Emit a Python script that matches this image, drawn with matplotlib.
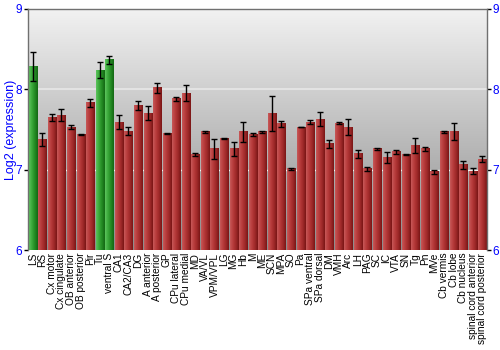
import numpy as np
import matplotlib
matplotlib.use("Agg")
import matplotlib.pyplot as plt
from matplotlib.colors import LinearSegmentedColormap

regions = ["LS", "RS", "Cx motor", "Cx cingulate", "OB anterior", "OB posterior", "Pir", "Tu",
           "ventral S", "CA1", "CA2/CA3", "DG", "A anterior", "A posterior", "GP", "CPu lateral",
           "CPu medial", "MD", "VA/VL", "VPM/VPL", "LG", "MG", "Hb", "M", "ME", "SCN", "MPA", "SO",
           "Pa", "SPa ventral", "SPa dorsal", "DM", "VMH", "Arc", "LH", "PAG", "SC", "IC", "VTA",
           "SN", "Tg", "Pn", "MVe", "Cb vermis", "Cb lobe", "Cb nucleus", "spinal cord anterior",
           "spinal cord posterior"]
values = [8.28, 7.38, 7.65, 7.68, 7.53, 7.44, 7.83, 8.24,
          8.37, 7.59, 7.48, 7.80, 7.70, 8.02, 7.45, 7.88,
          7.95, 7.19, 7.47, 7.26, 7.39, 7.26, 7.47, 7.44, 7.47, 7.70, 7.57, 7.01,
          7.53, 7.59, 7.63, 7.32, 7.58, 7.53, 7.20, 7.01, 7.26, 7.15, 7.22,
          7.19, 7.30, 7.26, 6.975, 7.47, 7.47, 7.06, 6.98,
          7.13]
errors = [0.18, 0.08, 0.04, 0.07, 0.02, 0.01, 0.05, 0.095,
          0.05, 0.087, 0.047, 0.06, 0.087, 0.06, 0.005, 0.025,
          0.10, 0.015, 0.015, 0.125, 0.01, 0.087, 0.125, 0.015, 0.015, 0.215, 0.037, 0.01,
          0.005, 0.025, 0.09, 0.05, 0.015, 0.10, 0.05, 0.025, 0.015, 0.07, 0.025,
          0.005, 0.09, 0.027, 0.027, 0.01, 0.105, 0.054, 0.04,
          0.037]
highlighted = ["LS", "Tu", "ventral S"]

fig = plt.figure(figsize=(5, 3.5), dpi=100)
ax = fig.add_axes([0.056, 0.2857, 0.918, 0.6886])

ymin, ymax = 6, 9
n = len(regions)
x = np.arange(n)
ax.set_xlim(-0.5, n - 0.5)
ax.set_ylim(ymin, ymax)

# background gradient
bg = LinearSegmentedColormap.from_list("bg", ["#8c8c8c", "#f2f2f2"])
grad = np.linspace(0, 1, 256).reshape(-1, 1)
ax.imshow(grad, extent=(-0.5, n - 0.5, ymin, ymax), origin="lower", cmap=bg,
          aspect="auto", zorder=0)

# grid lines
ax.axhline(8, color="#e8e8e8", lw=1.2, zorder=1)
ax.axhline(7, color="#f4f4f4", lw=1.0, zorder=1)

red_cm = LinearSegmentedColormap.from_list("red", ["#c65858", "#b83c3c", "#a02a2a", "#7a1616"])
green_cm = LinearSegmentedColormap.from_list("green", ["#5cc45c", "#3aa83a", "#238a23", "#146814"])
hgrad = np.linspace(0, 1, 32).reshape(1, -1)
w = 0.84
for xi, name, v in zip(x, regions, values):
    cm = green_cm if name in highlighted else red_cm
    ax.imshow(hgrad, extent=(xi - w / 2, xi + w / 2, ymin, v), cmap=cm,
              aspect="auto", zorder=2, interpolation="bilinear")

ax.errorbar(x, values, yerr=errors, fmt="none", ecolor="black", elinewidth=1.0,
            capsize=2.2, capthick=1.0, zorder=3)

ax.set_xlim(-0.5, n - 0.5)
ax.set_ylim(ymin, ymax)
ax.set_xticks(x)
ax.set_xticklabels(regions, rotation=90, fontsize=7.3, family="Liberation Sans",
                   va="top", ha="center")
ax.tick_params(axis="x", length=0, pad=2)
ax.set_yticks([6, 7, 8, 9])
ax.tick_params(axis="y", which="both", left=True, right=True, labelleft=True,
               labelright=True, length=3, width=1, colors="black", labelcolor="blue",
               labelsize=8.5, pad=1)
for lab in ax.get_yticklabels():
    lab.set_family("Liberation Sans")
fig.text(0.022, 0.2857 + 0.6886 / 2, "Log2 (expression)", color="blue", fontsize=9,
         family="Liberation Sans", rotation=90, ha="center", va="center")
for s in ["top", "left", "right"]:
    ax.spines[s].set_color("#707070")
    ax.spines[s].set_linewidth(1)
ax.spines["bottom"].set_visible(False)

fig.savefig("out.png", dpi=100)
